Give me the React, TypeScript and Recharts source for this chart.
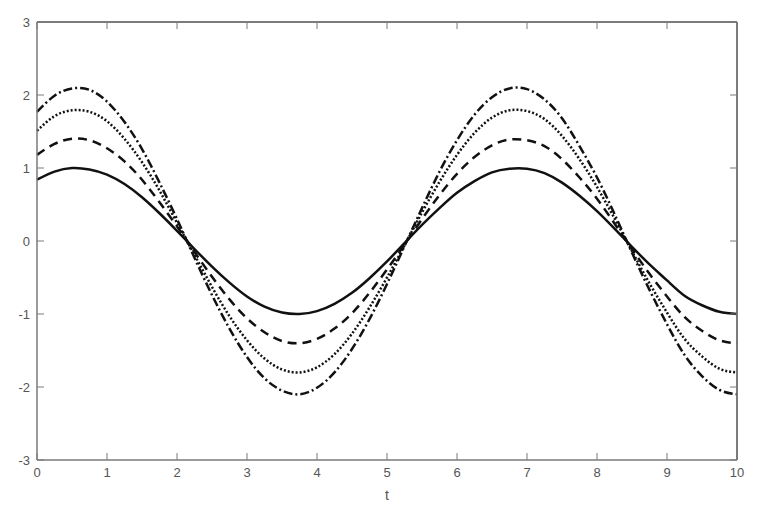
import type { ReactElement } from 'react'
import * as R from 'recharts'
import { LineChart, Line, XAxis, YAxis, ReferenceLine, CartesianGrid } from 'recharts'

const tValues = [
  0, 0.25, 0.5, 0.75, 1, 1.25, 1.5, 1.75, 2, 2.25, 2.5, 2.75, 3, 3.25, 3.5, 3.75, 4, 4.25, 4.5, 4.75, 5,
  5.25, 5.5, 5.75, 6, 6.25, 6.5, 6.75, 7, 7.25, 7.5, 7.75, 8, 8.25, 8.5, 8.75, 9, 9.25, 9.5, 9.75, 10,
]

// solid curve, amplitude 1
const solidValues = [
  0.84, 0.95, 1.0, 0.98, 0.91, 0.78, 0.6, 0.38, 0.14, -0.11, -0.35, -0.57, -0.76, -0.9, -0.98, -1.0, -0.96,
  -0.86, -0.71, -0.51, -0.28, -0.03, 0.22, 0.45, 0.66, 0.82, 0.94, 0.99, 0.99, 0.93, 0.8, 0.62, 0.41, 0.17,
  -0.08, -0.32, -0.54, -0.75, -0.88, -0.97, -1.0,
]

// dashed curve, amplitude ~1.4
const dashedValues = [
  1.18, 1.33, 1.4, 1.38, 1.27, 1.09, 0.84, 0.53, 0.2, -0.15, -0.49, -0.8, -1.06, -1.25, -1.37, -1.4, -1.34,
  -1.2, -0.99, -0.71, -0.39, -0.05, 0.3, 0.63, 0.92, 1.15, 1.31, 1.39, 1.38, 1.3, 1.12, 0.87, 0.58, 0.24,
  -0.11, -0.45, -0.76, -1.04, -1.23, -1.36, -1.4,
]

// dotted curve, amplitude ~1.8
const dottedValues = [
  1.51, 1.71, 1.79, 1.77, 1.64, 1.4, 1.08, 0.69, 0.25, -0.19, -0.63, -1.03, -1.36, -1.61, -1.76, -1.8, -1.73,
  -1.55, -1.27, -0.91, -0.5, -0.06, 0.39, 0.81, 1.18, 1.48, 1.69, 1.79, 1.78, 1.67, 1.44, 1.12, 0.74, 0.31,
  -0.14, -0.58, -0.98, -1.34, -1.58, -1.75, -1.8,
]

// dash-dot curve, amplitude ~2.1
const dashDotValues = [
  1.77, 1.99, 2.09, 2.07, 1.91, 1.63, 1.26, 0.8, 0.3, -0.23, -0.74, -1.2, -1.59, -1.88, -2.05, -2.1, -2.01,
  -1.8, -1.48, -1.07, -0.59, -0.07, 0.45, 0.95, 1.38, 1.73, 1.97, 2.09, 2.08, 1.94, 1.68, 1.3, 0.87, 0.37,
  -0.16, -0.67, -1.14, -1.56, -1.85, -2.04, -2.1,
]

const xTicks = [0, 1, 2, 3, 4, 5, 6, 7, 8, 9, 10]
const yTicks = [-3, -2, -1, 0, 1, 2, 3]

const data = tValues.map((t, i) => ({
  t,
  a: solidValues[i],
  b: dashedValues[i],
  c: dottedValues[i],
  d: dashDotValues[i],
}))

const axisColor = '#7a7a7a'
const font = 'Liberation Sans, Arial, sans-serif'
const TICK = 7

// plot rectangle from recharts (if this version exports the hook)
const usePlotAreaSafe: () => any = (R as any).usePlotArea || (() => undefined)

// tick marks point into the plot; the bottom axis also draws the top edge of the box
function BottomTick({ x, y, payload, index }: any) {
  const plot = usePlotAreaSafe()
  return (
    <g>
      <line x1={x} y1={y} x2={x} y2={y - TICK} stroke={axisColor} />
      {plot && <line x1={x} y1={plot.y} x2={x} y2={plot.y + TICK} stroke={axisColor} />}
      {plot && index === 0 && (
        <g stroke={axisColor} strokeWidth={1.5}>
          <line x1={plot.x} y1={plot.y} x2={plot.x + plot.width} y2={plot.y} />
          <line x1={plot.x + plot.width} y1={plot.y} x2={plot.x + plot.width} y2={plot.y + plot.height} />
        </g>
      )}
      <text x={x} y={y + 17} textAnchor="middle" fill="#555" stroke="none" fontSize={13} fontFamily={font}>
        {payload.value}
      </text>
    </g>
  )
}

function LeftTick({ x, y, payload }: any) {
  const plot = usePlotAreaSafe()
  return (
    <g>
      <line x1={x} y1={y} x2={x + TICK} y2={y} stroke={axisColor} />
      {plot && (
        <line x1={plot.x + plot.width} y1={y} x2={plot.x + plot.width - TICK} y2={y} stroke={axisColor} />
      )}
      <text x={x - 7} y={y + 5} textAnchor="end" fill="#555" stroke="none" fontSize={13} fontFamily={font}>
        {payload.value}
      </text>
    </g>
  )
}

export default function App(): ReactElement {
  return (
    <div style={{ position: 'absolute', left: 0, top: 0, background: '#fff' }}>
      <LineChart width={766} height={507} data={data} margin={{ top: 22, right: 29, bottom: 0, left: 7 }}>
        <CartesianGrid horizontalValues={[3]} verticalValues={[10]} stroke={axisColor} strokeWidth={1.5} />
        <XAxis
          dataKey="t"
          type="number"
          domain={[0, 10]}
          ticks={xTicks}
          height={47}
          stroke={axisColor}
          strokeWidth={1.5}
          tickLine={false}
          tickSize={0}
          tickMargin={0}
          tick={<BottomTick />}
          label={{ value: 't', position: 'insideBottom', offset: 7, fill: '#555', fontSize: 14, fontFamily: font }}
        />
        <YAxis
          domain={[-3, 3]}
          ticks={yTicks}
          width={30}
          stroke={axisColor}
          strokeWidth={1.5}
          tickLine={false}
          tickSize={0}
          tickMargin={0}
          tick={<LeftTick />}
        />
        <ReferenceLine y={3} stroke={axisColor} strokeWidth={1.5} />
        <ReferenceLine x={10} stroke={axisColor} strokeWidth={1.5} />
        <Line type="natural" dataKey="a" stroke="#111" strokeWidth={2.5} dot={false} isAnimationActive={false} />
        <Line type="natural" dataKey="b" stroke="#111" strokeWidth={2.5} strokeDasharray="9 6" dot={false} isAnimationActive={false} />
        <Line type="natural" dataKey="c" stroke="#111" strokeWidth={2.5} strokeDasharray="2 2" dot={false} isAnimationActive={false} />
        <Line type="natural" dataKey="d" stroke="#111" strokeWidth={2.5} strokeDasharray="9 3 2 3" dot={false} isAnimationActive={false} />
      </LineChart>
    </div>
  )
}
